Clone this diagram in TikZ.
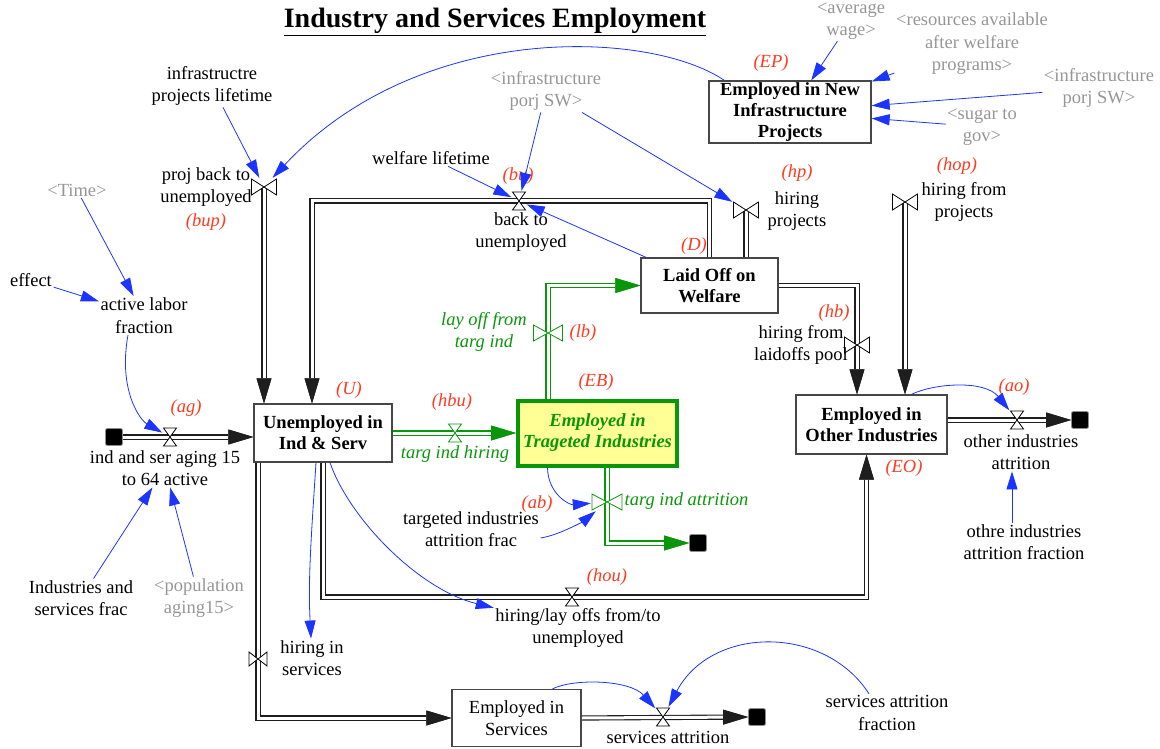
\documentclass[tikz,border=0pt]{standalone}
\usepackage{fontspec}
\setmainfont{Liberation Serif}
\usepackage{tikz}
\usetikzlibrary{arrows.meta, backgrounds}

\definecolor{linkblue}{RGB}{28,52,255}
\definecolor{codered}{RGB}{255,58,30}
\definecolor{ghost}{RGB}{150,150,150}
\definecolor{tgreen}{RGB}{10,150,10}
\definecolor{tyellow}{RGB}{255,255,150}
\definecolor{boxgray}{RGB}{70,70,70}
\definecolor{pipeblack}{RGB}{30,30,30}

\newcommand{\dgfont}{\fontsize{18.5}{22.5}\selectfont}
\newcommand{\stkfont}{\fontsize{18.5}{21}\selectfont}

\begin{document}
\begin{tikzpicture}[
    x=1pt, y=-1pt,
    % Stocks (levels)
    stock/.style={
        rectangle, draw=boxgray, line width=1.3pt, fill=white,
        align=center, font=\stkfont\bfseries, inner sep=1pt
    },
    % Targeted industries stock
    targ/.style={
        stock, draw=tgreen, line width=4pt, fill=tyellow, text=tgreen,
        font=\stkfont\bfseries\itshape
    },
    % Auxiliaries and flow names
    aux/.style={align=center, font=\dgfont, inner sep=1.5pt},
    ghostvar/.style={aux, text=ghost},
    greenlbl/.style={aux, text=tgreen, font=\dgfont\itshape},
    % Red symbol labels
    code/.style={font=\dgfont\itshape, text=codered, inner sep=1pt},
    % Sources and sinks
    cloud/.style={
        rectangle, fill=black, draw=black!45, line width=0.8pt,
        minimum size=17pt, inner sep=0pt, rounded corners=2pt
    },
    % Valve on a horizontal pipe
    valveh/.style={
        rectangle, inner sep=0pt, minimum width=15pt, minimum height=20pt,
        path picture={\filldraw[fill=white, line width=0.8pt]
            ([shift={(1pt,-1pt)}]path picture bounding box.north west) --
            ([shift={(-1pt,1pt)}]path picture bounding box.south east) --
            ([shift={(1pt,1pt)}]path picture bounding box.south west) --
            ([shift={(-1pt,-1pt)}]path picture bounding box.north east) -- cycle;}
    },
    % Valve on a vertical pipe
    valvev/.style={
        rectangle, inner sep=0pt, minimum width=27pt, minimum height=18pt,
        path picture={\filldraw[fill=white, line width=0.8pt]
            ([shift={(1pt,-1pt)}]path picture bounding box.north west) --
            ([shift={(-1pt,1pt)}]path picture bounding box.south east) --
            ([shift={(-1pt,-1pt)}]path picture bounding box.north east) --
            ([shift={(1pt,1pt)}]path picture bounding box.south west) -- cycle;}
    },
    % Pipes
    pipe/.style={
        draw=pipeblack, line width=5.2pt,
        postaction={draw=white, line width=3pt}
    },
    flow/.style={
        draw=pipeblack, line width=5.2pt,
        -{Triangle[length=25pt,width=15pt,line width=0pt]},
        postaction={draw=white, line width=3pt,
            -{Triangle[length=25pt,width=15pt,line width=0pt,color=pipeblack]}}
    },
    gflow/.style={
        draw=tgreen, line width=5.2pt,
        -{Triangle[length=25pt,width=15pt,line width=0pt]},
        postaction={draw=white, line width=3pt,
            -{Triangle[length=25pt,width=15pt,line width=0pt,color=tgreen]}}
    },
    % Information links
    link/.style={draw=linkblue, line width=0.8pt, -{Triangle[length=18pt,width=11pt]}},
]

\useasboundingbox (0,0) rectangle (1160,749);

% Title
\node[font=\fontsize{28}{32}\selectfont\bfseries] (title) at (495,22)
    {\underline{Industry and Services Employment}};

% ===== Stocks =====
\node[stock, minimum width=162pt, minimum height=62pt] (EP) at (790,112)
    {Employed in New\\Infrastructure\\Projects};
\node[stock, minimum width=138pt, minimum height=58pt] (U) at (323,433)
    {Unemployed in\\Ind \& Serv};
\node[targ, minimum width=159pt, minimum height=65pt] (EB) at (597.5,433)
    {Employed in\\Trageted Industries};
\node[stock, minimum width=137pt, minimum height=55pt] (D) at (709.5,285.5)
    {Laid Off on\\Welfare};
\node[stock, minimum width=151pt, minimum height=59pt] (EO) at (871.5,424.5)
    {Employed in\\Other Industries};
\node[stock, minimum width=129pt, minimum height=57pt, font=\dgfont\mdseries] (ES) at (516.5,718)
    {Employed in\\Services};

\node[code] (EPcode) at (771,63) {(EP)};
\node[code] (Ucode) at (349,390) {(U)};
\node[code] (EBcode) at (596,382) {(EB)};
\node[code] (Dcode) at (694,246) {(D)};
\node[code] (EOcode) at (904,468) {(EO)};

% ===== Sources / sinks =====
\node[cloud] (cag) at (114,437) {};
\node[cloud] (cao) at (1080,420) {};
\node[cloud] (cab) at (698,543) {};
\node[cloud] (csa) at (757,717) {};

% ===== Valves =====
\node[valveh] (ag) at (170,437) {};
\node[valvev] (bup) at (264,187) {};
\node[valveh] (bu) at (519,201) {};
\node[valvev] (hp) at (746,210) {};
\node[valvev] (hop) at (905,202) {};
\node[valvev] (hb) at (857,345) {};
\node[valveh, color=tgreen] (hbu) at (455,433) {};
\node[valvev, color=tgreen, minimum width=31pt] (lb) at (548,333) {};
\node[valvev, color=tgreen, minimum width=32pt] (ab) at (607,502) {};
\node[valveh] (hou) at (572,597) {};
\node[valvev, minimum width=20pt, minimum height=16pt] (hs) at (258,659) {};
\node[valveh] (sa) at (663,717) {};
\node[valveh] (ao) at (1017,420) {};

% Flow names
\node[aux] (agtxt) at (165,468) {ind and ser aging 15\\to 64 active};
\node[aux] (buptxt) at (206,187) {proj back to\\unemployed};
\node[aux] (butxt) at (521,232) {back to\\unemployed};
\node[aux] (hptxt) at (797,211) {hiring\\projects};
\node[aux] (hoptxt) at (964,202) {hiring from\\projects};
\node[aux] (hbtxt) at (801,345) {hiring from\\laidoffs pool};
\node[greenlbl] (hbutxt) at (455,454) {targ ind hiring};
\node[greenlbl] (lbtxt) at (484,332) {lay off from\\targ ind};
\node[greenlbl, anchor=west] (abtxt) at (623,501) {targ ind attrition};
\node[aux] (houtxt) at (578,628) {hiring/lay offs from/to\\unemployed};
\node[aux] (hstxt) at (312,658) {hiring in\\services};
\node[aux] (satxt) at (668,737) {services attrition};
\node[aux] (aotxt) at (1021,452) {other industries\\attrition};

\node[code] (agcode) at (186,408) {(ag)};
\node[code] (bupcode) at (206,222) {(bup)};
\node[code] (bucode) at (518,176) {(bu)};
\node[code] (hpcode) at (797,173) {(hp)};
\node[code] (hopcode) at (957,166) {(hop)};
\node[code] (hbcode) at (834,313) {(hb)};
\node[code] (hbucode) at (452,402) {(hbu)};
\node[code] (lbcode) at (583,333) {(lb)};
\node[code] (abcode) at (537,504) {(ab)};
\node[code] (houcode) at (607,577) {(hou)};
\node[code] (aocode) at (1014,387) {(ao)};

% ===== Auxiliaries =====
\node[aux] (iplt) at (212,86) {infrastructre\\projects lifetime};
\node[ghostvar] (timevar) at (77,190) {<Time>};
\node[aux] (eff) at (31,280) {effect};
\node[aux] (alf) at (144,315.5) {active labor\\fraction};
\node[aux] (isf) at (81,598) {Industries and\\services frac};
\node[ghostvar] (pag) at (199,598) {<population\\aging15>};
\node[aux] (wlt) at (431,158) {welfare lifetime};
\node[ghostvar] (ipsw) at (546,91) {<infrastructure\\porj SW>};
\node[ghostvar] (avw) at (851,21) {<average\\wage>};
\node[ghostvar] (res) at (972,44) {<resources available\\after welfare\\programs>};
\node[ghostvar] (ipswb) at (1099,88) {<infrastructure\\porj SW>};
\node[ghostvar] (sug) at (982,127) {<sugar to\\gov>};
\node[aux] (taf) at (471,529) {targeted industries\\attrition frac};
\node[aux] (oiaf) at (1024,542) {othre industries\\attrition fraction};
\node[aux] (saf) at (887,713) {services attrition\\fraction};

% ===== Information links =====
\draw[link] (iplt) -- (bup);
\draw[link] ([xshift=16pt]EP.north west) .. controls (650,30) and (420,20) .. (bup);
\draw[link] (ipsw) -- (bu);
\draw[link] (ipsw) -- (hp);
\draw[link] (wlt) -- (bu);
\draw[link] (D) -- (bu);
\draw[link] (avw) -- (EP);
\draw[link] (res) -- (EP);
\draw[link] (ipswb) -- (EP);
\draw[link] (sug) -- (EP);
\draw[link] (timevar) -- (alf);
\draw[link] (eff) -- (alf);
\draw[link] ([xshift=-16pt]alf.south) .. controls (118,390) and (140,420) .. (ag);
\draw[link] (isf) -- (agtxt);
\draw[link] (pag) -- (agtxt);
\draw[link] ([xshift=-7pt]U.south) .. controls (311,540) and (308,580) .. (hstxt);
\draw[link] ([xshift=7pt]U.south) .. controls (350,520) and (420,590) .. (houtxt);
\draw[link] ([xshift=-50pt]EB.south) .. controls (548,495) and (570,505) .. (ab);
\draw[link] ([yshift=-9pt]taf.east) .. controls (560,535) and (585,520) .. (ab);
\draw[link] ([xshift=40pt]EO.north) .. controls (935,383) and (985,380) .. (ao);
\draw[link] ([xshift=-12pt]oiaf.north) -- ([xshift=-9pt]aotxt.south);
\draw[link] ([xshift=36pt]ES.north) .. controls (575,678) and (630,680) .. (sa);
\draw[link] ([xshift=-18pt]saf.north) .. controls (825,625) and (712,625) .. (sa);

% ===== Pipes (behind the valves) =====
\begin{scope}[on background layer]
\draw[flow] (cag.east) -- (ag -| U.west);
\draw[flow] (bup.center) -- (bup |- U.north);
\draw[flow] (D.north) |- (bu.center) -| ([xshift=-11pt]U.north);
\draw[pipe] (hp |- D.north) -- (hp.center);
\draw[flow] (hop.center) -- (hop |- EO.north);
\draw[flow] (D.east) -| (hb.center) -- (hb |- EO.north);
\draw[gflow] (U.east) -- (EB.west);
\draw[gflow] (lb |- EB.north) |- (D.west);
\draw[gflow] (ab |- EB.south) |- (cab.west);
\draw[flow] (U.south) |- (hou.center) -| ([xshift=-5pt]EO.south);
\draw[flow] (hs |- U.south) |- (ES.west);
\draw[flow] (ES.east) -- (csa.west);
\draw[flow] (ao -| EO.east) -- (cao.west);
\end{scope}

\end{tikzpicture}
\end{document}
